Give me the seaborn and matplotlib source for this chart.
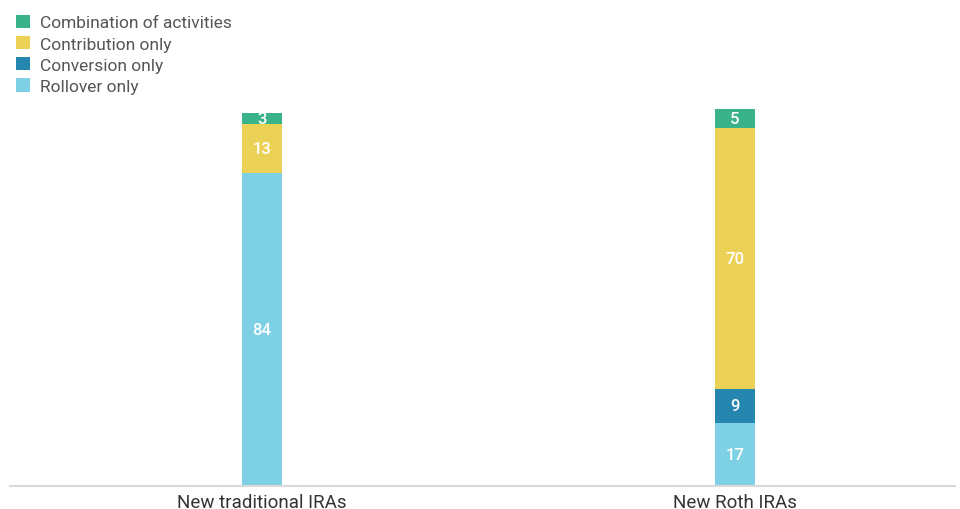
import numpy as np
import pandas as pd
import matplotlib
matplotlib.use("Agg")
import matplotlib.pyplot as plt
import seaborn as sns
from matplotlib.patches import Patch

# Data (percent of new IRAs)
accounts = ["New traditional IRAs", "New Roth IRAs"]
rollover_only = [84, 17]
conversion_only = [0, 9]
contribution_only = [13, 70]
combination = [3, 5]

# stacking order bottom -> top
layers = ["Rollover only", "Conversion only", "Contribution only", "Combination of activities"]
values = [rollover_only, conversion_only, contribution_only, combination]
colors = {
    "Rollover only": "#7ed1e4",
    "Conversion only": "#2586b0",
    "Contribution only": "#ecd157",
    "Combination of activities": "#3bb38a",
}

sns.set_theme(style="white")
plt.rcParams['font.family'] = ['Roboto', 'DejaVu Sans']

fig = plt.figure(figsize=(9.6, 5.1), dpi=100)
ax = fig.add_axes([10 / 960, 23 / 510, 945 / 960, 387 / 510])

cum = np.cumsum(np.array(values), axis=0)
# draw cumulative totals, tallest first, so each layer sits on the one below
for i in range(len(layers) - 1, -1, -1):
    df = pd.DataFrame({"account": accounts, "value": cum[i]})
    sns.barplot(data=df, x="account", y="value", color=colors[layers[i]],
                width=0.085, saturation=1, ax=ax, edgecolor="none")

# value labels
for i, name in enumerate(layers):
    for j in range(len(accounts)):
        v = values[i][j]
        if v == 0:
            continue
        mid = cum[i][j] - v / 2
        ax.text(j, mid, str(v), ha="center", va="center", color="white",
                fontsize=12, fontweight="medium")

ax.set_xlim(-0.533, 1.465)
ax.set_ylim(0, 103.75)
ax.set_xlabel("")
ax.set_ylabel("")
ax.set_yticks([])
for s in ["top", "left", "right"]:
    ax.spines[s].set_visible(False)
ax.spines["bottom"].set_color("#d9d9d9")
ax.spines["bottom"].set_linewidth(1.5)
ax.tick_params(axis="x", length=0, labelsize=13.5, colors="#333333", pad=5)

handles = [Patch(facecolor=colors[n], edgecolor="none") for n in layers[::-1]]
fig.legend(handles, layers[::-1], loc="upper left", bbox_to_anchor=(0.0, 1.0),
           frameon=False, fontsize=12.5, labelcolor="#555555",
           handlelength=0.8, handleheight=0.8, handletextpad=0.6,
           labelspacing=0.32, borderaxespad=0.6, borderpad=0.3)

fig.savefig("out.png", dpi=100)
